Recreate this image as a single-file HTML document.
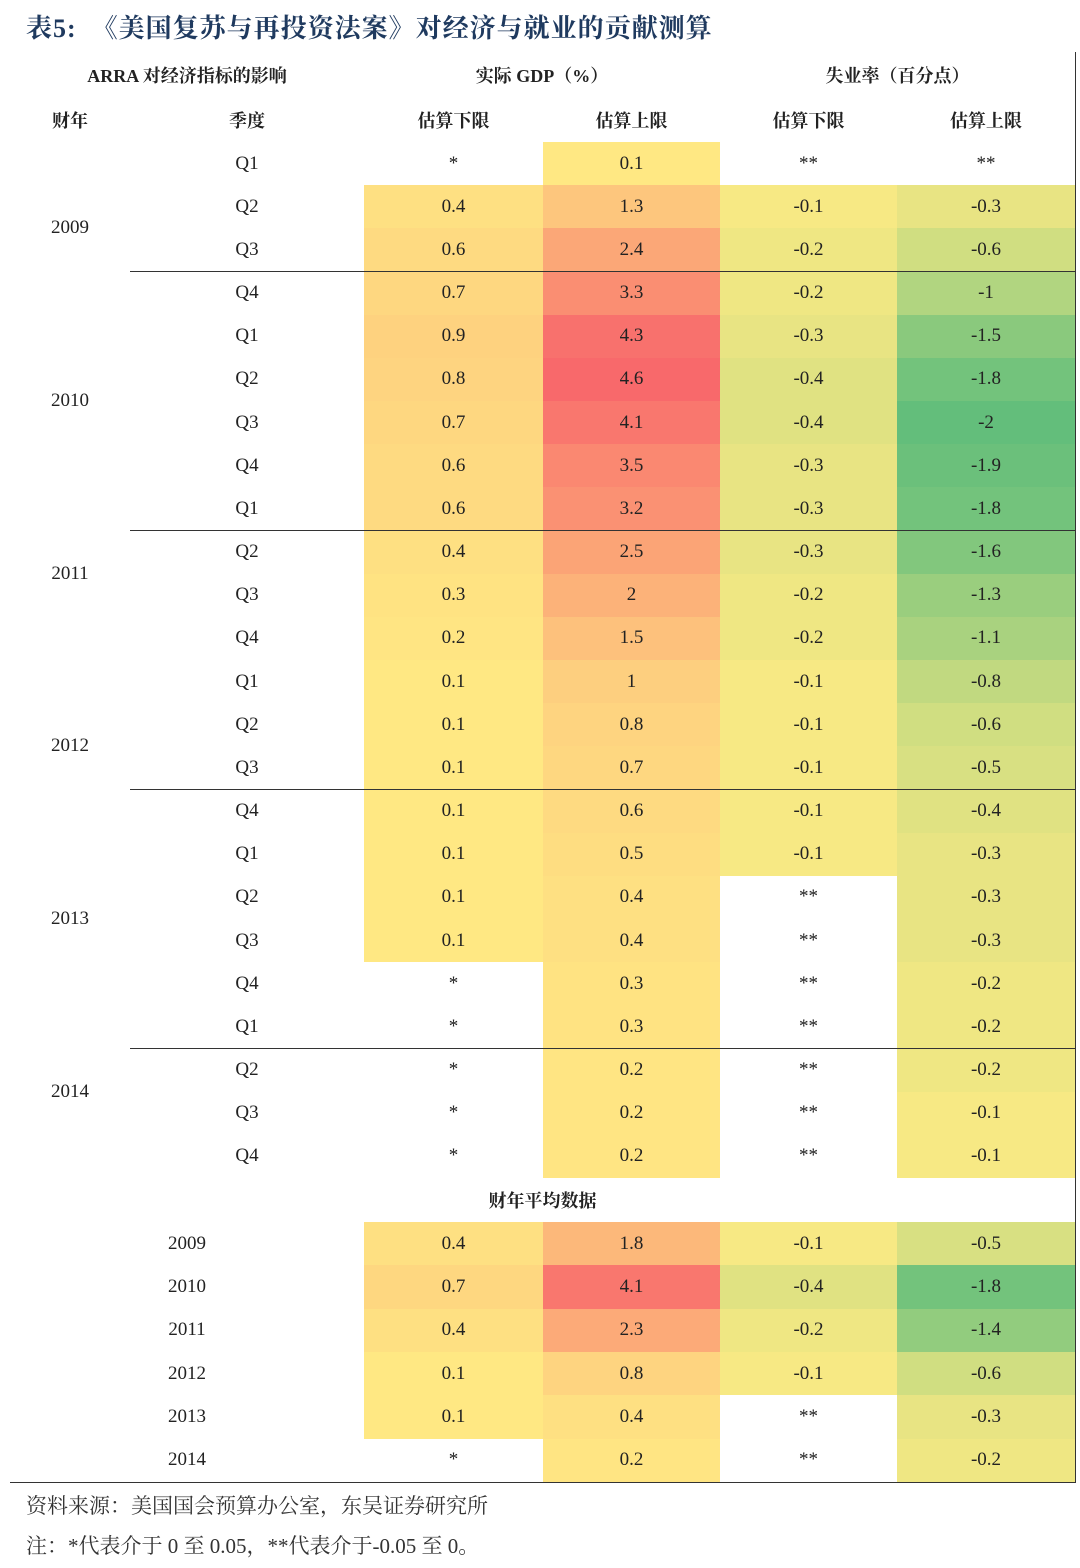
<!DOCTYPE html>
<html><head><meta charset="utf-8">
<style>
body{margin:0;width:1080px;height:1568px;background:#fff;position:relative;overflow:hidden;font-family:"Liberation Serif","Noto Serif CJK SC",serif;color:#222}
.t{position:absolute;left:26px;top:8px;font-size:26px;font-weight:bold;color:#1f3a5f;letter-spacing:1px}
.c{position:absolute;box-sizing:border-box;display:flex;align-items:center;justify-content:center;font-size:19px;border-right:1px solid #333;border-bottom:1px solid #333}
.h{font-weight:bold;font-size:18px}
.n{position:absolute;left:26px;font-size:21px;color:#333;font-family:"Liberation Serif","Noto Serif CJK SC",serif}
</style></head><body>
<div class="t">表5:&nbsp; 《美国复苏与再投资法案》对经济与就业的贡献测算</div>
<div id="tbl"></div>
<div class="n" style="top:1490px">资料来源：美国国会预算办公室，东吴证券研究所</div>
<div class="n" style="top:1530px">注：*代表介于 0 至 0.05，**代表介于-0.05 至 0。</div>
<script>
const years=["2009","2010","2011","2012","2013","2014"];
const quarters=["Q1","Q2","Q3","Q4"];
const gdpLow=["*",0.4,0.6,0.7,0.9,0.8,0.7,0.6,0.6,0.4,0.3,0.2,0.1,0.1,0.1,0.1,0.1,0.1,0.1,"*","*","*","*","*"];
const gdpHigh=[0.1,1.3,2.4,3.3,4.3,4.6,4.1,3.5,3.2,2.5,2.0,1.5,1.0,0.8,0.7,0.6,0.5,0.4,0.4,0.3,0.3,0.2,0.2,0.2];
const unLow=["**",-0.1,-0.2,-0.2,-0.3,-0.4,-0.4,-0.3,-0.3,-0.3,-0.2,-0.2,-0.1,-0.1,-0.1,-0.1,-0.1,"**","**","**","**","**","**","**"];
const unHigh=["**",-0.3,-0.6,-1,-1.5,-1.8,-2.0,-1.9,-1.8,-1.6,-1.3,-1.1,-0.8,-0.6,-0.5,-0.4,-0.3,-0.3,-0.3,-0.2,-0.2,-0.2,-0.1,-0.1];
const avgGdpLow=[0.4,0.7,0.4,0.1,0.1,"*"];
const avgGdpHigh=[1.8,4.1,2.3,0.8,0.4,0.2];
const avgUnLow=[-0.1,-0.4,-0.2,-0.1,"**","**"];
const avgUnHigh=[-0.5,-1.8,-1.4,-0.6,-0.3,-0.2];
const X=[10,130,364,543,720,897,1075];
const root=document.getElementById('tbl');
function lerp(a,b,t){return a.map((v,i)=>Math.round(v+(b[i]-v)*t));}
const Y=[255,235,132],R=[248,105,107],G=[99,190,123];
function color(v){
  if(typeof v!=="number")return "#fff";
  let c=v>=0?lerp(Y,R,Math.min(1,v/4.6)):lerp(Y,G,Math.min(1,-v/2.0));
  return "rgb("+c.join(",")+")";
}
function fmt(v){return typeof v==="number"?(Number.isInteger(v)&&v!==0?String(v):String(v)):v;}
function cell(x0,x1,y0,y1,txt,bg,cls,name){
  const d=document.createElement('div');
  d.className='c'+(cls?' '+cls:'');
  d.style.left=x0+'px';d.style.top=y0+'px';d.style.width=(x1-x0+1)+'px';d.style.height=(y1-y0+1)+'px';
  d.style.background=bg||'#fff';
  d.textContent=txt;
  
  
  root.appendChild(d);return d;
}
// top/left border
const frame=document.createElement('div');
frame.style.cssText='position:absolute;left:10px;top:52px;width:1065px;height:1430px;border-left:1px solid #333;border-top:1px solid #333;box-sizing:border-box';


root.appendChild(frame);
cell(X[0],X[2],52,97,"ARRA 对经济指标的影响",null,'h','header-arra');
cell(X[2],X[4],52,97,"实际 GDP（%）",null,'h','header-gdp');
cell(X[4],X[6],52,97,"失业率（百分点）",null,'h','header-unemployment');
const sub=["财年","季度","估算下限","估算上限","估算下限","估算上限"];
sub.forEach((s,i)=>cell(X[i],X[i+1],97,142,s,null,'h','subheader-'+i));
const rh=(1178-142)/24;
const cols=[gdpLow,gdpHigh,unLow,unHigh];
years.forEach((yr,yi)=>{
  cell(X[0],X[1],142+yi*4*rh,142+(yi+1)*4*rh,yr,null,'','year-'+yr);
  quarters.forEach((q,qi)=>{
    const i=yi*4+qi,y0=142+i*rh,y1=y0+rh;
    cell(X[1],X[2],y0,y1,q,null,'','quarter-'+yr+'-'+q);
    cols.forEach((arr,ci)=>cell(X[ci+2],X[ci+3],y0,y1,fmt(arr[i]),color(arr[i]),'','value-'+yr+'-'+q+'-'+ci));
  });
});
cell(X[0],X[6],1178,1222,"财年平均数据",null,'h','average-section-header');
const ah=(1482-1222)/6;
const acols=[avgGdpLow,avgGdpHigh,avgUnLow,avgUnHigh];
years.forEach((yr,i)=>{
  const y0=1222+i*ah,y1=y0+ah;
  cell(X[0],X[2],y0,y1,yr,null,'','avg-year-'+yr);
  acols.forEach((arr,ci)=>cell(X[ci+2],X[ci+3],y0,y1,fmt(arr[i]),color(arr[i]),'','avg-value-'+yr+'-'+ci));
});
</script>
</body></html>
